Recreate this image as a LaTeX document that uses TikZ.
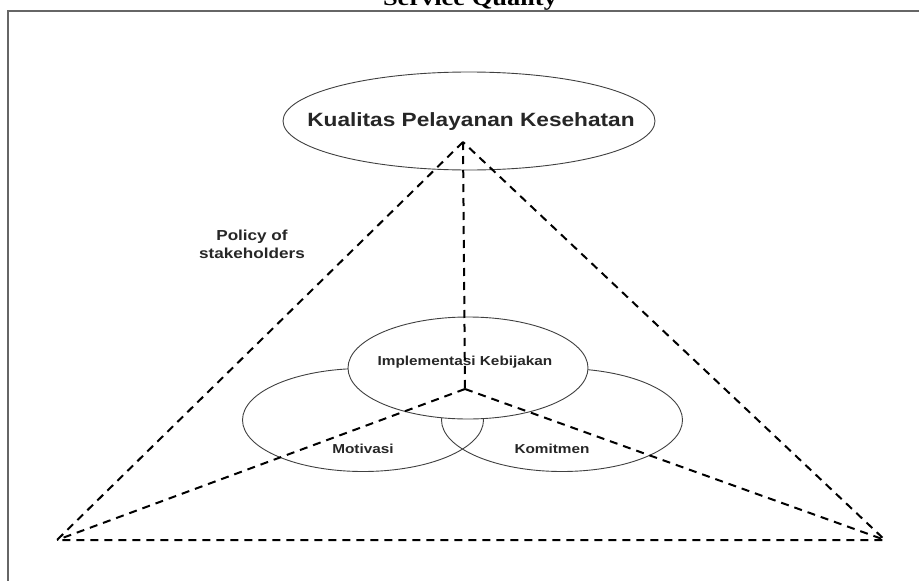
\documentclass[tikz,border=0pt]{standalone}
\usepackage{fontspec}
\setmainfont{Liberation Sans}
\newfontfamily\labelfont[FakeStretch=1.18]{Liberation Sans}
\newfontfamily\headfont[FakeStretch=1.18]{Liberation Serif}
\usetikzlibrary{shapes.geometric}

\begin{document}
\begin{tikzpicture}[
      x=1pt, y=-1pt,
      oval/.style={ellipse, draw=black!75, line width=0.9pt, inner sep=0pt},
      tag/.style={font=\labelfont\bfseries\fontsize{13}{15}\selectfont,
        inner sep=0pt, text=black!85},
      link/.style={dash pattern=on 8pt off 6pt, line width=2pt}
    ]
    \useasboundingbox (0,0) rectangle (919,581);

    % ---- frame and cut-off heading ----
    \draw[black!60, line width=1.6pt] (919,11) -- (8,11) -- (8,581);
    \node[font=\headfont\bfseries\fontsize{22.4}{24}\selectfont, anchor=base,
          inner sep=0pt] (head) at (470,5) {Service Quality};

    % ---- top goal ----
    \node[oval, fill=white, minimum width=372pt, minimum height=98pt] (quality) at (469,121) {};
    \node[tag, font=\labelfont\bfseries\fontsize{19.2}{22}\selectfont] (qualitytext) at (471,122)
      {Kualitas Pelayanan Kesehatan};
    \node[tag, font=\labelfont\bfseries\fontsize{14.5}{17.7}\selectfont, align=center]
      (policy) at (252,244) {Policy of\\stakeholders};

    % ---- three overlapping ovals ----
    \node[oval, minimum width=241pt, minimum height=103pt] (motiv) at (363,420) {};
    \node[oval, minimum width=241pt, minimum height=103pt] (komit) at (562,420) {};
    \node[oval, fill=white, minimum width=240pt, minimum height=102pt] (impl) at (468,368) {};
    \node[tag] (impltext)  at (465,362) {Implementasi Kebijakan};
    \node[tag] (motivtext) at (363,449) {Motivasi};
    \node[tag] (komittext) at (552,449) {Komitmen};

    % ---- dashed pyramid ----
    \coordinate (apex) at (463,142);
    \coordinate (hub)  at (465,389);
    \coordinate (lc)   at (57,540);
    \coordinate (rc)   at (885,540);

    \draw[link] (apex) -- (lc) -- (rc) -- cycle;
    \draw[link] (apex) -- (hub);
    \draw[link] (hub)  -- (lc);
    \draw[link] (hub)  -- (rc);
  \end{tikzpicture}
\end{document}
